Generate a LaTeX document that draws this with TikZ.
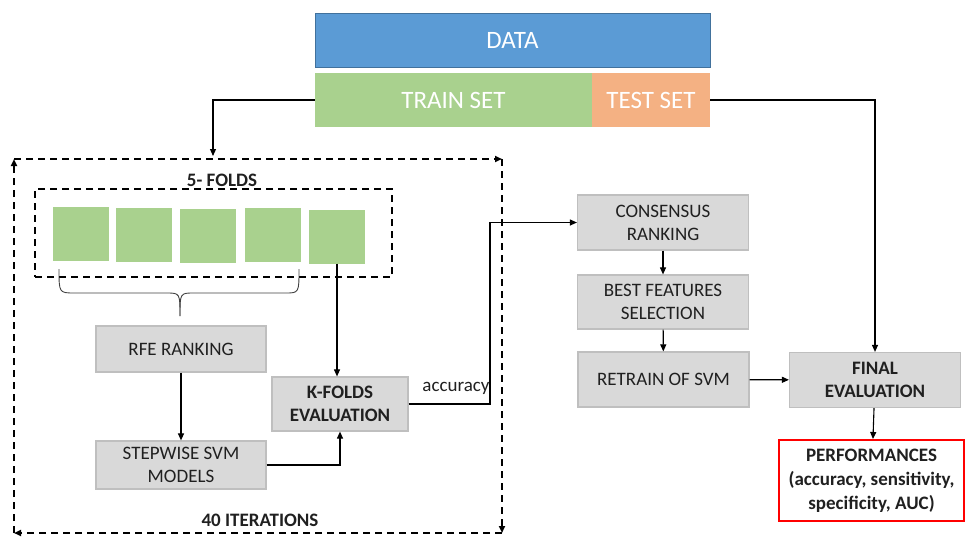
\documentclass[tikz,border=0pt]{standalone}
\usepackage{fontspec}
\setmainfont{Carlito}
\usetikzlibrary{arrows.meta}
\definecolor{datablue}{HTML}{5B9BD5}
\definecolor{databorder}{HTML}{41719C}
\definecolor{traingreen}{HTML}{A9D18E}
\definecolor{testorange}{HTML}{F4B183}
\definecolor{boxgray}{HTML}{D9D9D9}
\definecolor{boxborder}{HTML}{BFBFBF}
\definecolor{perfred}{HTML}{FF0000}
\definecolor{txt}{HTML}{202020}
\begin{document}
\begin{tikzpicture}[x=1pt,y=-1pt,
  graybox/.style={draw=boxborder, fill=boxgray, line width=1.2pt, align=center, inner sep=0pt,
    font=\fontsize{19}{23}\selectfont, text=txt},
  fold/.style={fill=traingreen, inner sep=0pt, minimum width=56pt, minimum height=54pt},
  conn/.style={line width=1.1pt, -{Triangle[length=7pt,width=6pt]}},
  dashbox/.style={line width=1.8pt, dash pattern=on 7pt off 5pt},
  loop/.style={dashbox, -{Triangle[length=7pt,width=6pt]}},
  bar/.style={inner sep=0pt, minimum height=54pt, text=white, font=\fontsize{25}{29}\selectfont},
]
\useasboundingbox (0,0) rectangle (965,536);
% data bars
\node[bar, draw=databorder, fill=datablue, line width=1pt, minimum width=395pt] (data) at (512.5,40) {DATA};
\node[bar, fill=traingreen, minimum width=277pt] (train) at (453.5,100) {TRAIN SET};
\node[bar, fill=testorange, minimum width=118pt] (test) at (651,100) {TEST SET};
% outer loop
\coordinate (c1) at (14,159);
\coordinate (c2) at (502,159);
\coordinate (c3) at (502,533);
\coordinate (c4) at (14,533);
\draw[loop] (c4) -- (c1);
\draw[loop] (c1) -- (c2);
\draw[loop] (c2) -- (c3);
\draw[loop] (c3) -- (c4);
\node[font=\bfseries\fontsize{19}{23}\selectfont, text=txt] (iter) at (260,520) {40 ITERATIONS};
\coordinate (loopin) at (213,156);
\draw[conn] (train.west) -| (loopin);
% folds
\node[font=\bfseries\fontsize{19}{23}\selectfont, text=txt] (foldlab) at (222,180) {5- FOLDS};
\node[draw, dashbox, inner sep=0pt, minimum width=357pt, minimum height=88pt] (folds) at (213.5,233) {};
\node[fold] (f1) at (80.5,233.5) {};
\node[fold] (f2) at (144,234.5) {};
\node[fold] (f3) at (208,235.5) {};
\node[fold] (f4) at (272.5,234.5) {};
\node[fold] (f5) at (337,236.5) {};
% brace
\draw[line width=0.9pt, draw=black!75]
  (59,269) .. controls (59,293) .. (75,293) -- (166,293) .. controls (180,293) .. (180,316);
\draw[line width=0.9pt, draw=black!75]
  (299,269) .. controls (299,293) .. (285,293) -- (194,293) .. controls (180,293) .. (180,316);
% inner boxes
\node[graybox, minimum width=170pt, minimum height=46pt] (rfe) at (181,349) {RFE RANKING};
\node[graybox, minimum width=170pt, minimum height=48pt] (step) at (181,465) {STEPWISE SVM\\MODELS};
\node[graybox, minimum width=136pt, minimum height=54pt, font=\bfseries\fontsize{19}{23}\selectfont] (kfold) at (340,404) {K-FOLDS\\EVALUATION};
\draw[conn] (f5.south) -- (f5.south |- kfold.north);
\draw[conn] (rfe) -- (step);
\draw[conn] (step.east) -| (kfold.south);
% right column
\node[graybox, minimum width=171pt, minimum height=55pt] (cons) at (663,222.5) {CONSENSUS\\RANKING};
\node[graybox, minimum width=171pt, minimum height=54pt] (best) at (663,302) {BEST FEATURES\\SELECTION};
\node[graybox, minimum width=171pt, minimum height=55pt] (retrain) at (663.5,379.5) {RETRAIN OF SVM};
\node[graybox, minimum width=171pt, minimum height=55pt, font=\bfseries\fontsize{19}{23}\selectfont] (final) at (875,380) {FINAL\\EVALUATION};
\node[draw=perfred, line width=2pt, fill=white, minimum width=185pt, minimum height=81pt, inner sep=0pt,
  align=center, font=\bfseries\fontsize{19}{24}\selectfont, text=txt] (perf) at (871.5,480.5)
  {PERFORMANCES\\(accuracy, sensitivity,\\specificity, AUC)};
\coordinate (turn) at (490,300);
\draw[conn] (kfold.east) -- (kfold.east -| turn) |- (cons.west);
\node[font=\fontsize{19}{23}\selectfont, text=txt] (acc) at (456,388) {accuracy};
\draw[conn] (cons) -- (best);
\draw[conn] (best) -- (retrain);
\draw[conn] (retrain) -- (final);
\draw[conn] (final) -- (perf);
\draw[conn] (test.east) -| (final.north);
\end{tikzpicture}
\end{document}
